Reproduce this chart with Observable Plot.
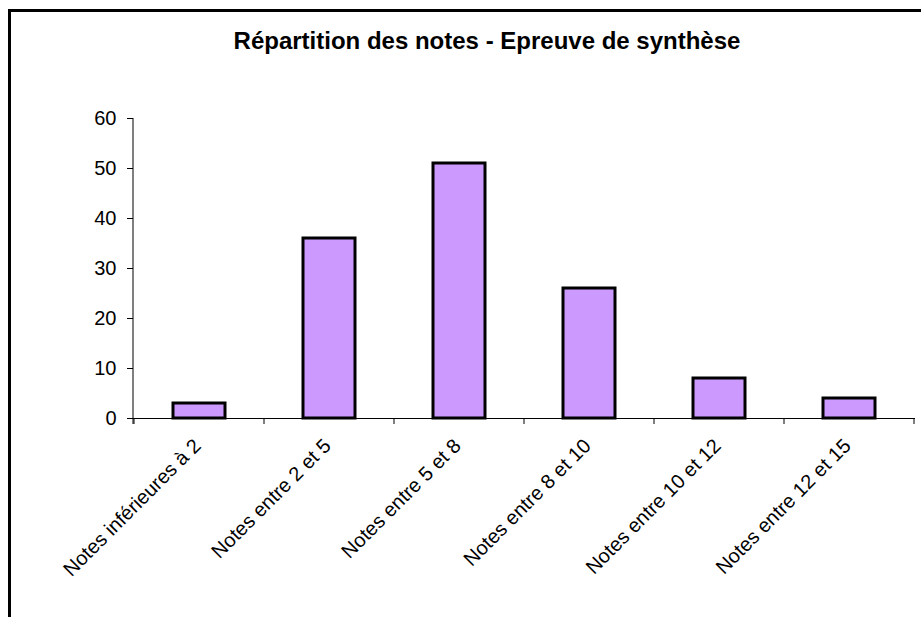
<!DOCTYPE html>
<html>
<head>
<meta charset="utf-8">
<script src="https://cdn.jsdelivr.net/npm/d3@7"></script>
<script src="https://cdn.jsdelivr.net/npm/@observablehq/plot@0.6"></script>
<style>
  html, body { margin: 0; padding: 0; background: #fff; overflow: hidden; width: 921px; height: 617px; }
  #wrap { position: relative; width: 921px; height: 617px; }
  #border { position: absolute; left: 8px; top: 9px; width: 1000px; height: 1000px; border: 3px solid #000; box-sizing: border-box; }
  #title { position: absolute; left: 0; width: 921px; top: 27px; text-align: center; font-family: "Liberation Sans", Arial, sans-serif; font-weight: bold; font-size: 24px; line-height: 28px; color: #000; padding-left: 53px; box-sizing: border-box; }
  #chart { position: absolute; left: 0; top: 0; }
  #chart svg text { font-size: 20px !important; font-family: "Liberation Sans", Arial, sans-serif; fill: #000; }
</style>
</head>
<body>
<div id="wrap">
  <div id="border"></div>
  <div id="chart"></div>
  <div id="title">Répartition des notes - Epreuve de synthèse</div>
</div>
<script>
const categories = [
  "Notes inférieures à 2",
  "Notes entre 2 et 5",
  "Notes entre 5 et 8",
  "Notes entre 8 et 10",
  "Notes entre 10 et 12",
  "Notes entre 12 et 15"
];
const values = [3, 36, 51, 26, 8, 4];
const yTicks = [0, 10, 20, 30, 40, 50, 60];

const data = categories.map((c, i) => ({category: c, value: values[i]}));

const chart = Plot.plot({
  width: 921,
  height: 617,
  marginLeft: 133,
  marginRight: 6,
  marginTop: 118,
  marginBottom: 199,
  style: {fontFamily: "'Liberation Sans', Arial, sans-serif", fontSize: "20px", color: "#000", background: "transparent"},
  x: {domain: categories, paddingInner: 0.6, paddingOuter: 0.3, align: 0.5},
  y: {domain: [0, 60]},
  marks: [
    Plot.barY(data, {x: "category", y: "value", fill: "#CC99FF", stroke: "#000", strokeWidth: 3}),
    Plot.ruleY([0], {stroke: "#000", strokeWidth: 1}),
    Plot.axisY({ticks: yTicks, tickSize: 6, tickPadding: 11, label: null, fontSize: 20, stroke: "#000", strokeOpacity: 1}),
    Plot.axisX({tickSize: 0, label: null, tickRotate: -45, textAnchor: "end", fontSize: 20, dx: -2, dy: 18, tickPadding: 6})
  ]
});
document.getElementById("chart").appendChild(chart);

// y-axis line and category boundary ticks on the x axis, from the scales
const xs = chart.scale("x");
const ys = chart.scale("y");
const svg = d3.select(chart);
const bw = xs.step;
const bounds = categories.map(c => xs.apply(c) - (bw - xs.bandwidth) / 2);
bounds.push(bounds[bounds.length - 1] + bw);
const y0 = ys.apply(0), yTop = ys.apply(60);
svg.append("g").selectAll("line").data(bounds).join("line")
  .attr("x1", d => d).attr("x2", d => d)
  .attr("y1", y0).attr("y2", y0 + 6)
  .attr("stroke", "#000");
svg.append("line").attr("x1", xs.range[0]).attr("x2", xs.range[0]).attr("y1", yTop).attr("y2", y0 + 6).attr("stroke", "#000");
</script>
</body>
</html>
